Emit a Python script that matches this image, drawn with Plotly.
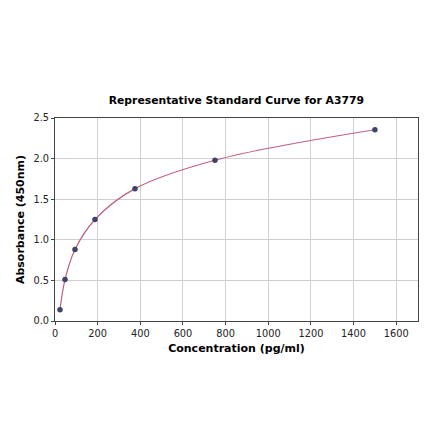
import plotly.graph_objects as go

# standard concentrations (pg/ml) and measured absorbance
conc = [23.4, 46.9, 93.75, 187.5, 375, 750, 1500]
absorbance = [0.14, 0.51, 0.88, 1.25, 1.63, 1.98, 2.355]

x_ticks = [0, 200, 400, 600, 800, 1000, 1200, 1400, 1600]
y_ticks = [0.0, 0.5, 1.0, 1.5, 2.0, 2.5]
y_tick_text = ["0.0", "0.5", "1.0", "1.5", "2.0", "2.5"]

fig = go.Figure()

fig.add_trace(
    go.Scatter(name="fit",
               x=conc,
               y=absorbance,
               mode="lines",
               line=dict(color="#c0607e", width=1.2, shape="spline", smoothing=1.0),
               hoverinfo="skip")
)

fig.add_trace(
    go.Scatter(name="standards",
               x=conc,
               y=absorbance,
               mode="markers",
               marker=dict(size=5.5, color="#3d4466"))
)

axis_style = dict(showline=True,
                  linecolor="#444444",
                  linewidth=1,
                  mirror=True,
                  showgrid=True,
                  gridcolor="#d0d0d0",
                  gridwidth=1,
                  zeroline=False,
                  ticks="outside",
                  ticklen=3,
                  tickcolor="#444444",
                  tickfont=dict(family="DejaVu Sans", size=9.8, color="#222222"))

fig.update_xaxes(range=[0, 1702],
                 tickvals=x_ticks,
                 title=dict(text="<b>Concentration (pg/ml)</b>",
                            font=dict(family="DejaVu Sans", size=11, color="#000000"),
                            standoff=6),
                 **axis_style)

fig.update_yaxes(range=[0, 2.5],
                 tickvals=y_ticks,
                 ticktext=y_tick_text,
                 title=dict(text="<b>Absorbance (450nm)</b>",
                            font=dict(family="DejaVu Sans", size=11, color="#000000"),
                            standoff=6),
                 **axis_style)

fig.update_layout(
    width=440,
    height=441,
    margin=dict(l=47, r=30, t=110, b=128),
    paper_bgcolor="white",
    plot_bgcolor="white",
    showlegend=False,
    title=dict(text="<b>Representative Standard Curve for A3779</b>",
               font=dict(family="DejaVu Sans", size=10.8, color="#000000"),
               x=0.519, xanchor="center",
               y=0.791, yanchor="middle"),
)

fig.write_html("out.html")
